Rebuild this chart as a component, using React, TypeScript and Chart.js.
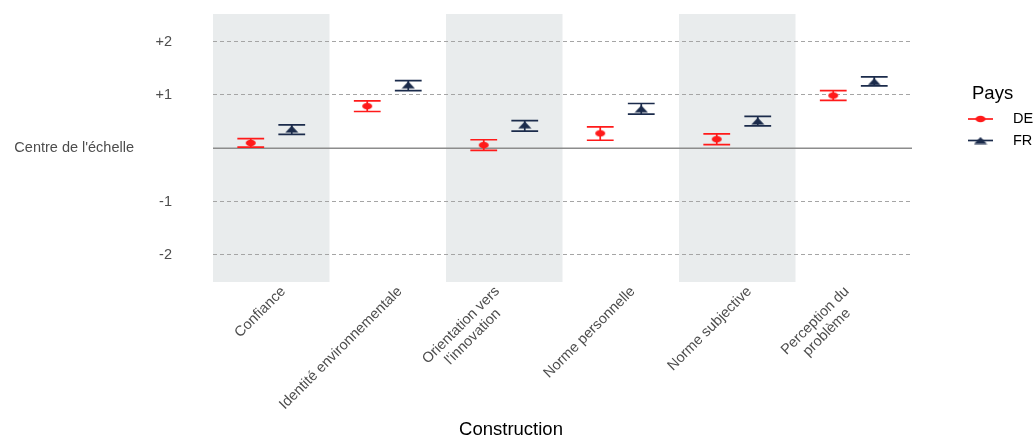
import React, { useEffect, useRef } from "react";
import { Chart, registerables } from "chart.js";

Chart.register(...registerables);

// ---- data ----
const categories: string[][] = [
  ["Confiance"],
  ["Identité environnementale"],
  ["Orientation vers", "l'innovation"],
  ["Norme personnelle"],
  ["Norme subjective"],
  ["Perception du", "problème"],
];
const seriesNames = ["DE", "FR"];
const deMean = [0.1, 0.79, 0.06, 0.28, 0.17, 0.99];
const deLow = [0.02, 0.69, -0.04, 0.15, 0.07, 0.9];
const deHigh = [0.18, 0.89, 0.16, 0.4, 0.27, 1.08];
const frMean = [0.36, 1.19, 0.44, 0.74, 0.51, 1.25];
const frLow = [0.26, 1.08, 0.32, 0.64, 0.42, 1.17];
const frHigh = [0.44, 1.27, 0.52, 0.84, 0.6, 1.34];
const yTickValues = [-2, -1, 0, 1, 2];
const yTickLabels = ["-2", "-1", "Centre de l'échelle", "+1", "+2"];
const xAxisTitle = "Construction";
const legendTitle = "Pays";

// ---- styles ----
const FONT = "'Liberation Sans', Arial, Helvetica, sans-serif";
const DE_COLOR = "#FF1A1A";
const FR_COLOR = "#1B2B4B";
const BAND_COLOR = "#E9ECED";
const GRID_COLOR = "#A5A5A5";
const ZERO_COLOR = "#8C8C8C";
const TEXT_GREY = "#4D4D4D";
const DODGE = 0.176;
const CAP_HALF = 0.115;
const TICK_FONT = 14.5;
const TITLE_FONT = 18.5;
const X_LABEL_SHIFT = 7;
const X_MULTILINE_SHIFT = 19;
const X_LABEL_PAD = 2;
const X_LINE_H = 16.5;

function makeEllipse(color: string) {
  const c = document.createElement("canvas");
  c.width = 12;
  c.height = 8;
  const g = c.getContext("2d")!;
  g.fillStyle = color;
  g.beginPath();
  g.ellipse(6, 4, 5, 3.3, 0, 0, Math.PI * 2);
  g.fill();
  return c;
}
function makeTriangle(color: string) {
  const c = document.createElement("canvas");
  c.width = 14;
  c.height = 8;
  const g = c.getContext("2d")!;
  g.fillStyle = color;
  g.beginPath();
  g.moveTo(7, 0.5);
  g.lineTo(13.5, 7.5);
  g.lineTo(0.5, 7.5);
  g.closePath();
  g.fill();
  return c;
}

export default function App() {
  const ref = useRef<HTMLCanvasElement | null>(null);

  useEffect(() => {
    if (!ref.current) return;
    const deMarker = makeEllipse(DE_COLOR);
    const frMarker = makeTriangle(FR_COLOR);
    const series = [
      { name: seriesNames[0], mean: deMean, low: deLow, high: deHigh, color: DE_COLOR, off: -DODGE, marker: deMarker },
      { name: seriesNames[1], mean: frMean, low: frLow, high: frHigh, color: FR_COLOR, off: DODGE, marker: frMarker },
    ];

    const bandPlugin = {
      id: "bands",
      beforeDraw(chart: any) {
        const { ctx, chartArea, scales } = chart;
        const x = scales.x;
        ctx.save();
        ctx.fillStyle = BAND_COLOR;
        categories.forEach((_, i) => {
          if (i % 2 !== 0) return;
          const l = x.getPixelForValue(i - 0.5);
          const r = x.getPixelForValue(i + 0.5);
          ctx.fillRect(l, chartArea.top, r - l, chartArea.bottom - chartArea.top);
        });
        ctx.restore();
      },
    };

    const errPlugin = {
      id: "errbars",
      beforeDatasetsDraw(chart: any) {
        const { ctx, chartArea, scales } = chart;
        const x = scales.x;
        const y = scales.y;
        ctx.save();
        const y0 = y.getPixelForValue(0);
        ctx.strokeStyle = ZERO_COLOR;
        ctx.lineWidth = 1.6;
        ctx.beginPath();
        ctx.moveTo(chartArea.left, y0);
        ctx.lineTo(chartArea.right, y0);
        ctx.stroke();
        series.forEach((s) => {
          ctx.strokeStyle = s.color;
          ctx.lineWidth = 1.7;
          s.mean.forEach((_, i) => {
            const cx = x.getPixelForValue(i + s.off);
            const l = x.getPixelForValue(i + s.off - CAP_HALF);
            const r = x.getPixelForValue(i + s.off + CAP_HALF);
            const yl = y.getPixelForValue(s.low[i]);
            const yh = y.getPixelForValue(s.high[i]);
            ctx.beginPath();
            ctx.moveTo(cx, yl);
            ctx.lineTo(cx, yh);
            ctx.moveTo(l, yl);
            ctx.lineTo(r, yl);
            ctx.moveTo(l, yh);
            ctx.lineTo(r, yh);
            ctx.stroke();
          });
        });
        ctx.restore();
      },
    };

    const textPlugin = {
      id: "texts",
      afterDraw(chart: any) {
        const { ctx, scales, chartArea } = chart;
        const x = scales.x;
        const y = scales.y;
        ctx.save();
        // y tick labels
        ctx.font = `${TICK_FONT}px ${FONT}`;
        ctx.fillStyle = TEXT_GREY;
        ctx.textBaseline = "middle";
        ctx.textAlign = "right";
        yTickValues.forEach((v, i) => {
          const py = y.getPixelForValue(v);
          const px = v === 0 ? chartArea.left - 79 : chartArea.left - 41;
          ctx.fillText(yTickLabels[i], px, py);
        });
        // x tick labels, rotated 45°, lines centred within a right-anchored block
        categories.forEach((lines, i) => {
          const tx = x.getPixelForValue(i) + X_LABEL_SHIFT - (lines.length - 1) * X_MULTILINE_SHIFT;
          const ty = chartArea.bottom + X_LABEL_PAD;
          ctx.save();
          ctx.translate(tx, ty);
          ctx.rotate(-Math.PI / 4);
          const bw = Math.max(...lines.map((l) => ctx.measureText(l).width));
          ctx.textAlign = "center";
          ctx.textBaseline = "top";
          lines.forEach((l, k) => ctx.fillText(l, -bw / 2, k * X_LINE_H));
          ctx.restore();
        });
        // x axis title
        ctx.font = `${TITLE_FONT}px ${FONT}`;
        ctx.fillStyle = "#000000";
        ctx.textAlign = "center";
        ctx.textBaseline = "middle";
        ctx.fillText(xAxisTitle, 511, 430);
        // legend
        const lx = chartArea.right + 56;
        ctx.textAlign = "left";
        ctx.fillText(legendTitle, lx + 4, 94);
        ctx.font = `${TICK_FONT}px ${FONT}`;
        series.forEach((s, k) => {
          const ly = 119 + k * 21.5;
          ctx.strokeStyle = s.color;
          ctx.lineWidth = 1.7;
          ctx.beginPath();
          ctx.moveTo(lx, ly);
          ctx.lineTo(lx + 25, ly);
          ctx.stroke();
          const m = s.marker;
          ctx.drawImage(m, lx + 12.5 - m.width / 2, ly - m.height / 2);
          ctx.fillStyle = "#000000";
          ctx.fillText(s.name, lx + 45, ly);
        });
        ctx.restore();
      },
    };

    const chart = new Chart(ref.current, {
      type: "scatter",
      data: {
        datasets: series.map((s) => ({
          label: s.name,
          data: s.mean.map((v, i) => ({ x: i + s.off, y: v })),
          pointStyle: s.marker as any,
          backgroundColor: s.color,
          borderColor: s.color,
          pointRadius: 5,
          showLine: false,
        })),
      },
      options: {
        animation: false,
        responsive: false,
        devicePixelRatio: 1,
        layout: { padding: { top: 14, right: 121, left: 0, bottom: 0 } },
        plugins: {
          legend: { display: false },
          tooltip: { enabled: false },
          title: { display: false },
        },
        scales: {
          x: {
            type: "linear",
            min: -0.5,
            max: categories.length - 0.5,
            afterBuildTicks: (scale: any) => {
              scale.ticks = categories.map((_, i) => ({ value: i }));
            },
            afterFit: (scale: any) => {
              scale.height = 157;
            },
            ticks: { display: false },
            grid: { display: false, drawTicks: false },
            border: { display: false },
          },
          y: {
            type: "linear",
            min: -2.51,
            max: 2.52,
            afterBuildTicks: (scale: any) => {
              scale.ticks = yTickValues.map((v) => ({ value: v }));
            },
            afterFit: (scale: any) => {
              scale.width = 213;
            },
            ticks: { display: false },
            grid: {
              drawTicks: false,
              lineWidth: 1.1,
              color: (ctx: any) => (ctx.tick && ctx.tick.value === 0 ? "rgba(0,0,0,0)" : GRID_COLOR),
            },
            border: { display: false, dash: [4, 3] },
          },
        },
      },
      plugins: [bandPlugin, errPlugin, textPlugin],
    } as any);

    return () => chart.destroy();
  }, []);

  return (
    <div style={{ position: "fixed", left: 0, top: 0, width: 1033, height: 439, background: "#fff" }}>
      <canvas ref={ref} width={1033} height={439} style={{ display: "block" }} />
    </div>
  );
}
